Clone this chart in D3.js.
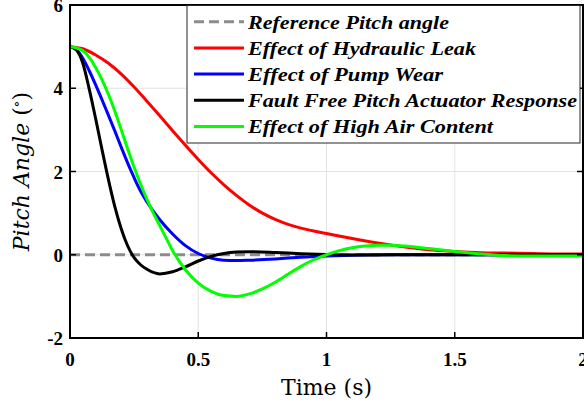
<!DOCTYPE html>
<html><head><meta charset="utf-8">
<script src="https://cdn.jsdelivr.net/npm/d3@7"></script>
<style>
html,body{margin:0;padding:0;background:#fff;}
svg{display:block;}
.serif{font-family:"Liberation Serif","Times New Roman",Times,"Nimbus Roman","DejaVu Serif","Noto Serif",serif;}
.cm{font-family:"DejaVu Serif","Liberation Serif","Noto Serif",serif;}
</style>
</head><body>
<script>
// ---- data ----
const timeRed   = [0,0.05,0.1,0.15,0.2,0.25,0.3,0.35,0.4,0.45,0.5,0.55,0.6,0.65,0.7,0.75,0.8,0.85,0.9,0.95,1.0,1.1,1.2,1.3,1.4,1.5,1.6,1.7,1.8,1.9,2.0];
const hydraulicLeak = [5,4.95,4.8,4.6,4.34,4.03,3.69,3.34,2.98,2.63,2.29,1.97,1.68,1.42,1.19,1.0,0.85,0.73,0.64,0.57,0.51,0.39,0.28,0.19,0.12,0.08,0.05,0.04,0.03,0.02,0.02];
const timeFast  = [0,0.025,0.05,0.075,0.1,0.125,0.15,0.175,0.2,0.225,0.25,0.275,0.3,0.35,0.4,0.45,0.5,0.55,0.6,0.65,0.7,0.8,0.9,1.0,1.1,1.2,1.3,1.4,1.5,1.6,1.7,1.8,1.9,2.0];
const pumpWear  = [5,4.93,4.72,4.42,4.08,3.72,3.35,2.97,2.58,2.2,1.85,1.53,1.27,0.84,0.5,0.22,0.03,-0.08,-0.13,-0.14,-0.13,-0.1,-0.06,-0.03,-0.01,0,0,0,0,0,0,0,0,0];
const faultFree = [5,4.92,4.6,3.98,3.27,2.52,1.8,1.15,0.62,0.21,-0.07,-0.24,-0.35,-0.46,-0.41,-0.29,-0.15,-0.04,0.03,0.065,0.075,0.055,0.025,0.005,-0.005,-0.005,0,0,0,0,0,0,0,0];
const timeAir   = [0,0.025,0.05,0.075,0.1,0.125,0.15,0.175,0.2,0.225,0.25,0.275,0.3,0.325,0.35,0.375,0.4,0.45,0.5,0.55,0.6,0.65,0.7,0.75,0.8,0.85,0.9,0.95,1.0,1.05,1.1,1.15,1.2,1.25,1.3,1.4,1.5,1.6,1.7,1.8,1.9,2.0];
const highAir   = [5,4.97,4.9,4.74,4.5,4.2,3.85,3.45,3.0,2.54,2.1,1.7,1.33,1.0,0.7,0.4,0.1,-0.36,-0.68,-0.88,-0.98,-1.0,-0.94,-0.82,-0.66,-0.47,-0.28,-0.12,0.0,0.1,0.17,0.21,0.23,0.23,0.21,0.15,0.08,0.02,-0.02,-0.03,-0.03,-0.03];
const referenceTime = [0,2];
const referenceAngle = [0,0];
const xTicks = [0,0.5,1,1.5,2];
const xTickLabels = ["0","0.5","1","1.5","2"];
const yTicks = [-2,0,2,4,6];
const yTickLabels = ["-2","0","2","4","6"];
const legendLabels = ["Reference Pitch angle","Effect of Hydraulic Leak","Effect of Pump Wear","Fault Free Pitch Actuator Response","Effect of High Air Content"];

// ---- layout ----
const W=584,H=406;
const L=70,R=583,T=5,B=338;
const legendTextWidths=[201,228,195,329,245];
const svg=d3.select("body").append("svg").attr("width",W).attr("height",H);
const x=d3.scaleLinear().domain([0,2]).range([L,R]);
const y=d3.scaleLinear().domain([-2,6]).range([B,T]);

// grid
const g=svg.append("g");
g.selectAll(".gx").data(xTicks.slice(1,-1)).enter().append("line")
 .attr("x1",d=>x(d)).attr("x2",d=>x(d)).attr("y1",T).attr("y2",B)
 .attr("stroke","#e3e3e3").attr("stroke-width",1);
g.selectAll(".gy").data(yTicks.slice(1,-1)).enter().append("line")
 .attr("y1",d=>y(d)).attr("y2",d=>y(d)).attr("x1",L).attr("x2",R)
 .attr("stroke","#e3e3e3").attr("stroke-width",1);

// series
const series=[
 {t:referenceTime,v:referenceAngle,color:"#8c8c8c",dash:"10,5"},
 {t:timeRed,v:hydraulicLeak,color:"#ff0000"},
 {t:timeFast,v:pumpWear,color:"#0000ff"},
 {t:timeFast,v:faultFree,color:"#000000"},
 {t:timeAir,v:highAir,color:"#00ff00"}
];
const line=d3.line().x(d=>x(d[0])).y(d=>y(d[1])).curve(d3.curveMonotoneX);
svg.append("defs").append("clipPath").attr("id","clip").append("rect")
 .attr("x",L).attr("y",T).attr("width",R-L).attr("height",B-T);
series.forEach(s=>{
  svg.append("path").attr("clip-path","url(#clip)")
   .datum(s.t.map((t,i)=>[t,s.v[i]]))
   .attr("d",line).attr("fill","none").attr("stroke",s.color)
   .attr("stroke-width",3).attr("stroke-dasharray",s.dash||null);
});

// axes box and ticks
const ax=svg.append("g");
const tl=6;
xTicks.forEach(d=>{
  ax.append("line").attr("x1",x(d)).attr("x2",x(d)).attr("y1",B).attr("y2",B-tl).attr("stroke","#000").attr("stroke-width",1.5);
  ax.append("line").attr("x1",x(d)).attr("x2",x(d)).attr("y1",T).attr("y2",T+tl).attr("stroke","#000").attr("stroke-width",1.5);
});
yTicks.forEach(d=>{
  ax.append("line").attr("y1",y(d)).attr("y2",y(d)).attr("x1",L).attr("x2",L+tl).attr("stroke","#000").attr("stroke-width",1.5);
  ax.append("line").attr("y1",y(d)).attr("y2",y(d)).attr("x1",R).attr("x2",R-tl).attr("stroke","#000").attr("stroke-width",1.5);
});
ax.append("rect").attr("x",L).attr("y",T).attr("width",R-L).attr("height",B-T)
 .attr("fill","none").attr("stroke","#000").attr("stroke-width",2);

// tick labels
svg.selectAll(".xl").data(xTicks).enter().append("text").attr("class","serif")
 .attr("x",d=>x(d)).attr("y",B+28).attr("text-anchor","middle")
 .style("font-weight","bold").style("font-size","19px")
 .text((d,i)=>xTickLabels[i]);
svg.selectAll(".yl").data(yTicks).enter().append("text").attr("class","serif")
 .attr("x",L-7).attr("y",d=>y(d)+7).attr("text-anchor","end")
 .style("font-weight","bold").style("font-size","19px")
 .text((d,i)=>yTickLabels[i]);

// axis titles
svg.append("text").attr("class","cm").attr("x",(L+R)/2).attr("y",395).attr("text-anchor","middle")
 .style("font-size","22px").text("Time (s)");
const yt=svg.append("text").attr("class","cm").attr("transform",`translate(29,${(T+B)/2}) rotate(-90)`)
 .attr("text-anchor","middle").style("font-size","22px");
yt.append("tspan").style("font-style","italic").text("Pitch Angle");
yt.append("tspan").text(" (");
yt.append("tspan").style("font-size","14px").attr("dy",-8).text("∘");
yt.append("tspan").attr("dy",8).text(")");

// legend
const lg=svg.append("g");
lg.append("rect").attr("x",187).attr("y",5.5).attr("width",393).attr("height",137.5)
 .attr("fill","#fff").attr("stroke","#262626").attr("stroke-width",1);
legendLabels.forEach((lab,i)=>{
  const cy=21.7+i*26.2;
  lg.append("line").attr("x1",194).attr("x2",244).attr("y1",cy).attr("y2",cy)
   .attr("stroke",series[i].color).attr("stroke-width",3).attr("stroke-dasharray",series[i].dash||null);
  lg.append("text").attr("class","serif").attr("x",248).attr("y",cy+6.8)
   .style("font-weight","bold").style("font-style","italic").style("font-size","18px")
   .attr("textLength",legendTextWidths[i]).attr("lengthAdjust","spacingAndGlyphs")
   .text(lab);
});
</script>
</body></html>
